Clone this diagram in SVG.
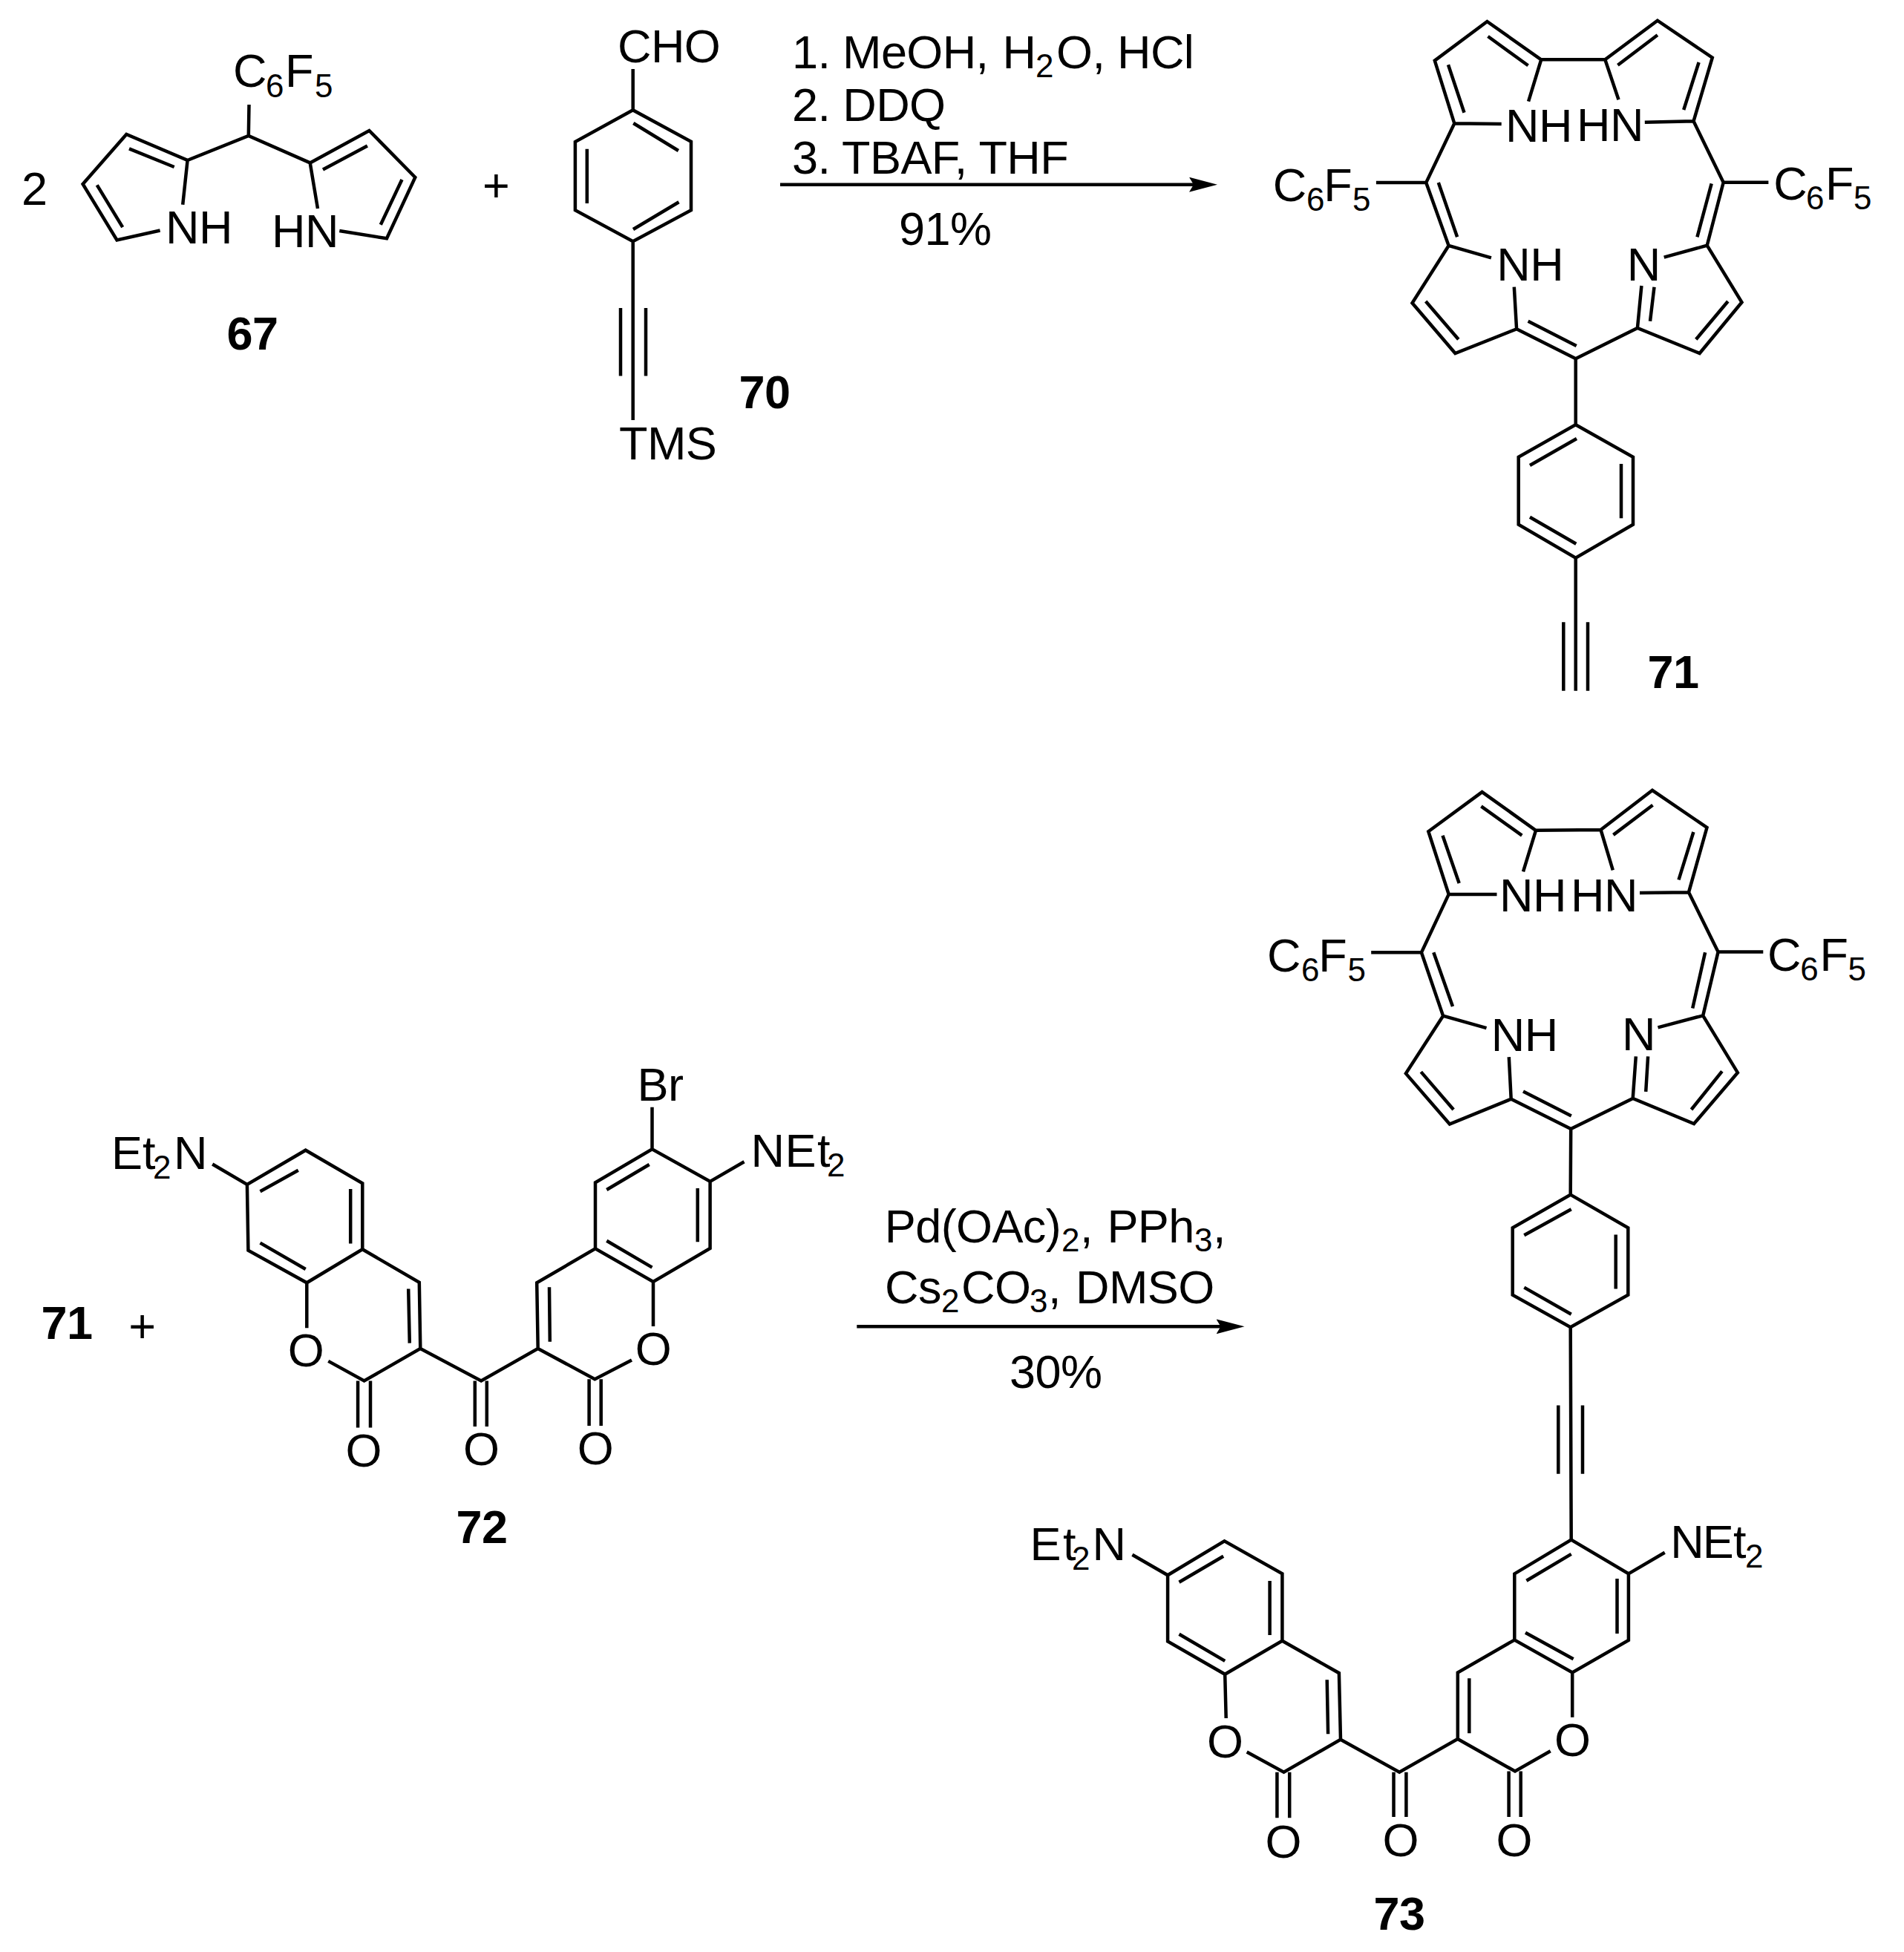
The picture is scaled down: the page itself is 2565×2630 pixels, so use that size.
<svg xmlns="http://www.w3.org/2000/svg" width="2565" height="2630" viewBox="0 0 2565 2630">
<style>
text{font-family:"Liberation Sans",Arial,sans-serif;font-size:63px;letter-spacing:-0.6px;fill:#000}
.s{font-size:44px;letter-spacing:0}
.b{font-weight:bold}
.m{text-anchor:middle}
.bond{fill:none;stroke:#000;stroke-width:4.5;stroke-linejoin:miter;stroke-linecap:butt}
.rx{fill:none;stroke:#000;stroke-width:4.5}
</style>
<defs>
<marker id="head" markerUnits="userSpaceOnUse" markerWidth="38" markerHeight="20" viewBox="0 0 38 20" refX="8" refY="10" orient="auto"><path d="M0 0L38 10L0 20L6 10Z" fill="#000"/></marker>
</defs>
<rect width="2565" height="2630" fill="#fff"/>

<g id="compound-67">
<path class="bond" d="M335.5 141L334.8 183M252.6 216L334.8 183L417.7 219.4M246.2 275.8L252.6 216L170.3 181L111.6 248L157.5 323.5L215.6 310.5M174 200.3L234.7 225M130.7 249.3L165.2 306.2M428 281L417.7 219.4L497.4 176L559.3 239L521 321.3L457.3 311M435 228.5L494.9 196.4M541.5 242L512.8 302.7"/>
<text x="314" y="117">C<tspan class="s" x="358" y="131">6</tspan><tspan x="384" y="117">F</tspan><tspan class="s" x="424" y="131">5</tspan></text>
<text x="223" y="328">NH</text>
<text x="366" y="332.6">HN</text>
<text class="b m" x="340" y="470.5">67</text>
</g>
<text id="coef-2" x="29" y="276">2</text>
<text id="plus-1" class="m" x="668" y="272">+</text>

<g id="compound-70">
<path class="bond" d="M852.7 93L852.7 148.3L931 190.8L931 283.2L852.7 325.2L774.9 283.2L774.9 191L852.7 148.3M853.3 166L913.9 203M790.8 200.8L790.8 274M853 309L914.5 272.3M852.7 325.2L852.7 566M836 415L836 506.5M870 415L870 506.5"/>
<text x="832" y="83.7">CHO</text>
<text x="834" y="619">TMS</text>
<text class="b m" x="1030" y="550">70</text>
</g>

<g id="connectors">
<line class="rx" x1="1051" y1="248.7" x2="1610" y2="248.7" marker-end="url(#head)"/>
<line class="rx" x1="1154.3" y1="1787.3" x2="1646.5" y2="1787.3" marker-end="url(#head)"/>
</g>

<g id="conditions-1">
<text x="1067" y="91.7">1. <tspan x="1135">MeOH,</tspan><tspan x="1350.6">H</tspan><tspan class="s" x="1395" y="103.5">2</tspan><tspan x="1423" y="91.7">O,</tspan><tspan x="1505">HCl</tspan></text>
<text x="1067" y="163">2. DDQ</text>
<text x="1067" y="234">3. TBAF, THF</text>
<text x="1211" y="330">91%</text>
</g>

<g id="compound-71">
<path class="bond" d="M2059.1 136.7L2076.2 80.3L2003.4 29L1932.8 81.7L1959.3 166.3L2022.7 167M2058.6 88.3L2004.5 49M1951 87.3L1972.5 151.7M2076.2 80.3L2162.3 80.3L2232.9 27.7L2306.8 77.7L2281.5 163.3L2215.8 164.7M2162.3 80.3L2180.5 134.3M2179.4 87.7L2232.9 47.3M2288.6 84L2268.2 148M1959.3 166.3L1921.2 246L1951.6 331L2008.9 347.3M1921.2 246L1853.9 246M1937.8 246L1963.1 319.3M2281.5 163.3L2321.7 245.7L2299.7 330.7L2241.7 346.7M2321.7 245.7L2382.4 245.7M2305.7 247.3L2286.4 319.3M1951.6 331L1902.5 408.3L1960.4 476L2043.1 443.3L2039.8 386.7M1920.7 406L1964.8 457.3M2043.1 443.3L2122.7 483.3L2205.9 442L2289.7 476L2346.5 407.3L2299.7 330.7M2058.6 432.7L2123.7 466M2205.9 442L2211.4 385M2223 432.7L2228.5 386.7M2284.8 457.3L2327.8 406M2122.7 483.3L2122.7 572.3L2045.7 615.7L2045.7 706.7L2122.7 751.7L2200 706.7L2200 615.7L2122.7 572.3M2124 591L2061 627M2184 625L2184 698.3M2061 696.7L2123.3 732.7M2122.7 751.7L2122.7 930.7M2106.3 838.3L2106.3 930.7M2139 838.3L2139 930.7"/>
<text x="2028" y="190.7">NH</text>
<text x="2124" y="190">HN</text>
<text x="1714.7" y="270.7">C<tspan class="s" x="1760" y="283.5">6</tspan><tspan x="1783.3" y="270.7">F</tspan><tspan class="s" x="1822" y="283.5">5</tspan></text>
<text x="2389.3" y="269.3">C<tspan class="s" x="2433" y="282">6</tspan><tspan x="2459" y="269.3">F</tspan><tspan class="s" x="2497" y="282">5</tspan></text>
<text x="2016.3" y="378.3">NH</text>
<text x="2191.8" y="377.7">N</text>
<text class="b m" x="2254" y="926.7">71</text>
</g>

<text id="ref-71" class="b m" x="90" y="1804">71</text>
<text id="plus-2" class="m" x="191.3" y="1809">+</text>

<g id="compound-72">
<path class="bond" d="M286.2 1568.5L332.9 1596L411.7 1549.7L488.3 1594.2L488.3 1683.3L413.3 1728.3L334.4 1684.7L332.9 1596M350.5 1605.2L401.8 1576.8M472.2 1602L472.2 1675.5M350.5 1674.6L411.7 1710M488.3 1683.3L564.8 1727.8L566.3 1816.9L490.6 1860.5L442.3 1833.9M550.2 1736.5L551.8 1809.6M413.3 1728.3L413.3 1789.3M482.1 1860.5L482.1 1923.4M499 1860.5L499 1923.4M566.3 1816.9L648.2 1860.5L724.7 1816.9L723.2 1728.3L802 1682.4L880 1726.9L956.6 1681.9L956.6 1591.9L878.5 1548.3L802 1593.3L802 1682.4M639.8 1860.5L639.8 1922M655.8 1860.5L655.8 1922M740 1734.2L740.8 1807.7M817.3 1603L874.7 1569M939.8 1601L939.8 1673.2M817.3 1671.8L878.5 1707.6M878.5 1548.3L878.5 1491.8M956.6 1591.9L1002.5 1565.3M880 1726.9L880 1787M724.7 1816.9L801.3 1858.2L851 1832.5M793.6 1858.2L793.6 1921M809.7 1858.2L809.7 1921"/>
<text x="150" y="1574.5">E<tspan x="192">t</tspan><tspan class="s" x="206" y="1588">2</tspan><tspan x="234" y="1574.5">N</tspan></text>
<text x="858.6" y="1483">Br</text>
<text x="1011.6" y="1571.7">N<tspan x="1057.6">E</tspan><tspan x="1101">t</tspan><tspan class="s" x="1114" y="1585">2</tspan></text>
<text class="m" x="412" y="1841">O</text>
<text class="m" x="880" y="1839">O</text>
<text class="m" x="489.8" y="1975.5">O</text>
<text class="m" x="648.2" y="1974">O</text>
<text class="m" x="802" y="1973">O</text>
<text class="b m" x="649" y="2078.6">72</text>
</g>

<g id="conditions-2">
<text x="1191.8" y="1674.3">Pd(OAc)<tspan class="s" x="1430" y="1686">2</tspan><tspan x="1455" y="1674.3">,</tspan><tspan x="1491.4">PPh</tspan><tspan class="s" x="1609" y="1686">3</tspan><tspan x="1634" y="1674.3">,</tspan></text>
<text x="1192" y="1755.7">Cs<tspan class="s" x="1268" y="1767.5">2</tspan><tspan x="1295" y="1755.7">CO</tspan><tspan class="s" x="1387" y="1767.5">3</tspan><tspan x="1412" y="1755.7">,</tspan><tspan x="1449">DMSO</tspan></text>
<text x="1360" y="1870">30%</text>
</g>

<g id="compound-73">
<path class="bond" d="M2052 1174.3L2069 1118.8L1996.6 1067.1L1924.3 1120.3L1951.7 1204.9L2016.5 1204.9M2050.3 1125.7L1995.4 1086.3M1943.5 1125.7L1965.7 1190M2069 1118.8L2156.5 1118L2226 1064.8L2299.5 1115L2275 1202.2L2209 1203M2156.5 1118L2172.8 1172.4M2173.4 1124.9L2226.5 1084.7M2281.4 1121L2261.5 1185.4M1951.7 1204.9L1914.9 1283.3L1944.1 1368.7L2002.5 1385.1M1914.9 1283.3L1847.2 1283.3M1931.3 1283.3L1957 1356M2275 1202.2L2314.6 1282.6L2294.2 1368.3L2233.5 1384.4M2314.6 1282.6L2375.3 1282.6M2297.1 1283.3L2280.2 1358.4M1944.1 1368.7L1893.9 1446.4L1952.9 1514.5L2035.7 1480.8L2032.8 1424.2M1914.3 1444.1L1958.1 1495M2035.7 1480.8L2116.2 1521L2199.7 1480L2282 1514.1L2340.9 1445.2L2294.2 1368.3M2052 1470.5L2116.8 1503.4M2199.7 1480L2203.8 1423.4M2217.2 1470.9L2220.1 1423.4M2278.5 1495L2319.9 1443.3M2116.2 1521L2115.7 1609.6L2037.7 1654.3L2037.7 1744.6L2115.7 1788.2L2193.3 1744.6L2193.3 1654.3L2115.7 1609.6M2116.7 1629.3L2053.3 1664.3M2176.7 1663.6L2176.7 1736.4M2053.3 1734.6L2116.7 1770.7M2115.7 1788.2L2116.7 2074.5M2099.3 1893.6L2099.3 1985.7M2132 1893.6L2132 1985.7"/>
<path class="bond" d="M1525.4 2094.7L1573.1 2122.3L1649.5 2076.4L1727.4 2120.4L1727.4 2210.7L1650.2 2255.8L1573.1 2211.4L1573.1 2122.3M1588.5 2131.7L1648.1 2096.7M1710.6 2130L1710.6 2202.9M1588.5 2201.7L1650.2 2237.9M1727.4 2210.7L1803.9 2254.2L1806 2343.7L1729.5 2387.7L1679.7 2360.5M1787.7 2263.2L1789.1 2336.3M1650.2 2255.8L1651.7 2315M1720.4 2387.7L1720.4 2449.2M1737.2 2387.7L1737.2 2449.2M1806 2343.7L1885.2 2387.7L1963.8 2343L1963.8 2253.5L2040.3 2209.5L2118.2 2253.5L2193.9 2209.9L2193.9 2120.4L2116.7 2074.5L2040.3 2120.4L2040.3 2209.5M1877.5 2387.7L1877.5 2448M1894.4 2387.7L1894.4 2448M1979.3 2261.2L1979.3 2335.2M2056.4 2129.7L2116.7 2093.9M2178.5 2127L2178.5 2200.9M2055 2199.8L2119.6 2235.2M2193.9 2120.4L2242.7 2091.8M2118.2 2253.5L2118.2 2313.8M1963.8 2343L2041 2386.5L2088.7 2359.3M2032.6 2386.5L2032.6 2448M2048.7 2386.5L2048.7 2448"/>
<text x="2020" y="1228.2">NH</text>
<text x="2116" y="1227.5">HN</text>
<text x="1707" y="1308.6">C<tspan class="s" x="1753" y="1321.6">6</tspan><tspan x="1776.3" y="1308.6">F</tspan><tspan class="s" x="1815.5" y="1321.6">5</tspan></text>
<text x="2381" y="1307.8">C<tspan class="s" x="2425.3" y="1320.8">6</tspan><tspan x="2451.4" y="1307.8">F</tspan><tspan class="s" x="2489.5" y="1320.8">5</tspan></text>
<text x="2008.8" y="1415.8">NH</text>
<text x="2185.1" y="1414.6">N</text>
<text x="1387.4" y="2101.7">E<tspan x="1432">t</tspan><tspan class="s" x="1444" y="2115">2</tspan><tspan x="1471.6" y="2101.7">N</tspan></text>
<text x="2250.3" y="2099">N<tspan x="2293.8">E</tspan><tspan x="2335">t</tspan><tspan class="s" x="2351" y="2112">2</tspan></text>
<text class="m" x="1650.2" y="2367.5">O</text>
<text class="m" x="2118.2" y="2366.3">O</text>
<text class="m" x="1728.8" y="2502.5">O</text>
<text class="m" x="1886.6" y="2500.5">O</text>
<text class="m" x="2039.6" y="2500.5">O</text>
<text class="b m" x="1885" y="2599.8">73</text>
</g>
</svg>
